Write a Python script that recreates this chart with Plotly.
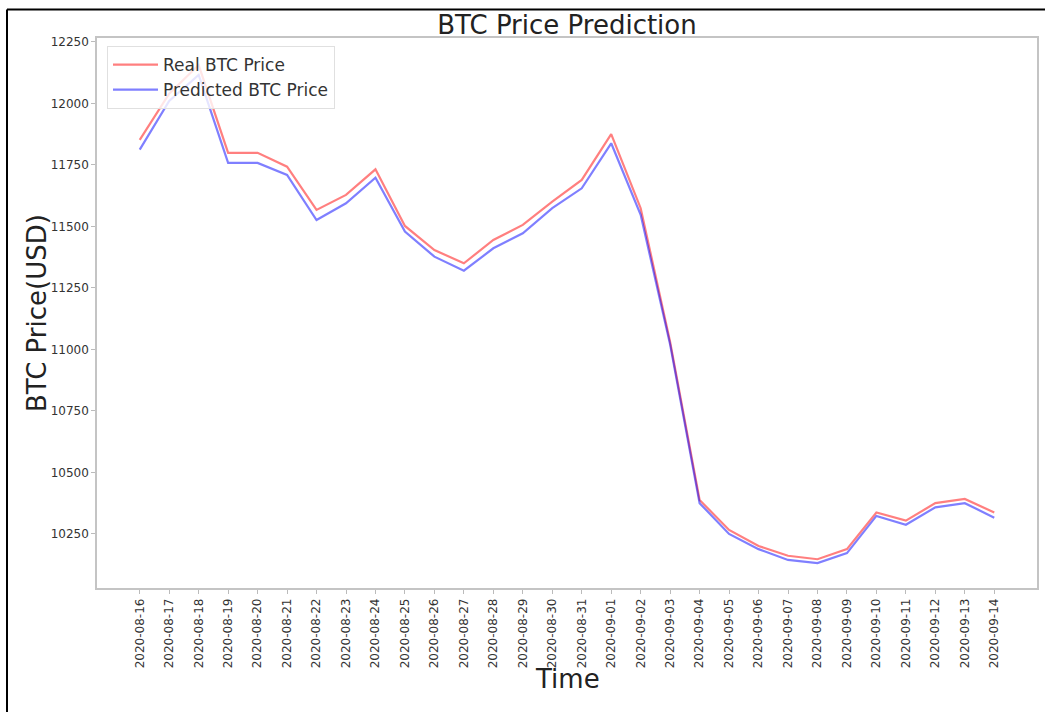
import plotly.graph_objects as go

# Daily dates on the x axis
dates = [
    "2020-08-16", "2020-08-17", "2020-08-18", "2020-08-19", "2020-08-20",
    "2020-08-21", "2020-08-22", "2020-08-23", "2020-08-24", "2020-08-25",
    "2020-08-26", "2020-08-27", "2020-08-28", "2020-08-29", "2020-08-30",
    "2020-08-31", "2020-09-01", "2020-09-02", "2020-09-03", "2020-09-04",
    "2020-09-05", "2020-09-06", "2020-09-07", "2020-09-08", "2020-09-09",
    "2020-09-10", "2020-09-11", "2020-09-12", "2020-09-13", "2020-09-14",
]

# Actual closing price (USD)
real_price = [
    11852, 12040, 12156, 11799, 11799, 11743, 11567, 11628, 11732, 11502,
    11404, 11350, 11445, 11506, 11601, 11689, 11875, 11574, 11030, 10388,
    10266, 10201, 10161, 10147, 10188, 10337, 10304, 10375, 10392, 10337,
]

# Model output (USD)
predicted_price = [
    11812, 12010, 12116, 11758, 11758, 11709, 11526, 11594, 11698, 11479,
    11377, 11320, 11411, 11472, 11574, 11655, 11838, 11547, 11020, 10375,
    10250, 10188, 10144, 10131, 10172, 10323, 10287, 10358, 10375, 10316,
]

y_ticks = [10250, 10500, 10750, 11000, 11250, 11500, 11750, 12000, 12250]

FONT = "DejaVu Sans, Arial, sans-serif"

fig = go.Figure()
fig.add_trace(go.Scatter(
    x=dates, y=real_price, mode="lines", name="Real BTC Price",
    line=dict(color="rgba(255,0,0,0.5)", width=2.2),
))
fig.add_trace(go.Scatter(
    x=dates, y=predicted_price, mode="lines", name="Predicted BTC Price",
    line=dict(color="rgba(0,0,255,0.5)", width=2.2),
))

# Plot-area geometry in pixels
L, R, T, B = 97, 1037, 38, 588
W, H = 1045, 712


def px_x(px):
    return (px - L) / (R - L)


def px_y(py):
    return (B - py) / (B - T)


fig.update_layout(
    width=W, height=H,
    margin=dict(l=L, r=W - R, t=T, b=H - B, autoexpand=False),
    paper_bgcolor="white", plot_bgcolor="white",
    font=dict(family=FONT, color="#333"),
    title=dict(
        text="BTC Price Prediction", xref="paper", x=0.5, xanchor="center",
        y=1 - 25 / H, yanchor="middle",
        font=dict(size=26, color="#222"),
    ),
    showlegend=True,
    legend=dict(
        x=px_x(107), y=px_y(46), xanchor="left", yanchor="top",
        bgcolor="rgba(255,255,255,0.8)", bordercolor="#e0e0e0", borderwidth=1,
        font=dict(size=17, color="#333"), itemwidth=45,
    ),
    xaxis=dict(
        type="category", categoryorder="array", categoryarray=dates,
        range=[-1.45, len(dates) - 1 + 1.45],
        tickangle=-90, tickfont=dict(size=12, color="#333"),
        ticks="outside", ticklen=4, tickcolor="#bbb",
        showline=True, linecolor="#c4c4c4", linewidth=1.5, mirror=True,
        showgrid=False, zeroline=False,
    ),
    yaxis=dict(
        range=[10030, 12266],
        tickvals=y_ticks, ticktext=[str(v) for v in y_ticks],
        tickfont=dict(size=12, color="#333"),
        ticks="outside", ticklen=4, tickcolor="#bbb",
        showline=True, linecolor="#c4c4c4", linewidth=1.5, mirror=True,
        showgrid=False, zeroline=False,
    ),
    annotations=[
        dict(text="Time", xref="paper", yref="paper",
             x=0.5, y=px_y(679), xanchor="center", yanchor="middle",
             showarrow=False, font=dict(size=26, color="#222")),
        dict(text="BTC Price(USD)", xref="paper", yref="paper",
             x=px_x(37), y=0.5, xanchor="center", yanchor="middle",
             textangle=-90, showarrow=False, font=dict(size=26, color="#222")),
    ],
    shapes=[
        # dark outer frame along the top and left edges
        dict(type="line", xref="paper", yref="paper",
             x0=px_x(7), x1=px_x(W + 5), y0=px_y(9.5), y1=px_y(9.5),
             line=dict(color="black", width=2)),
        dict(type="line", xref="paper", yref="paper",
             x0=px_x(7), x1=px_x(7), y0=px_y(9.5), y1=px_y(H + 5),
             line=dict(color="black", width=2)),
    ],
)

fig.write_html("out.html")
